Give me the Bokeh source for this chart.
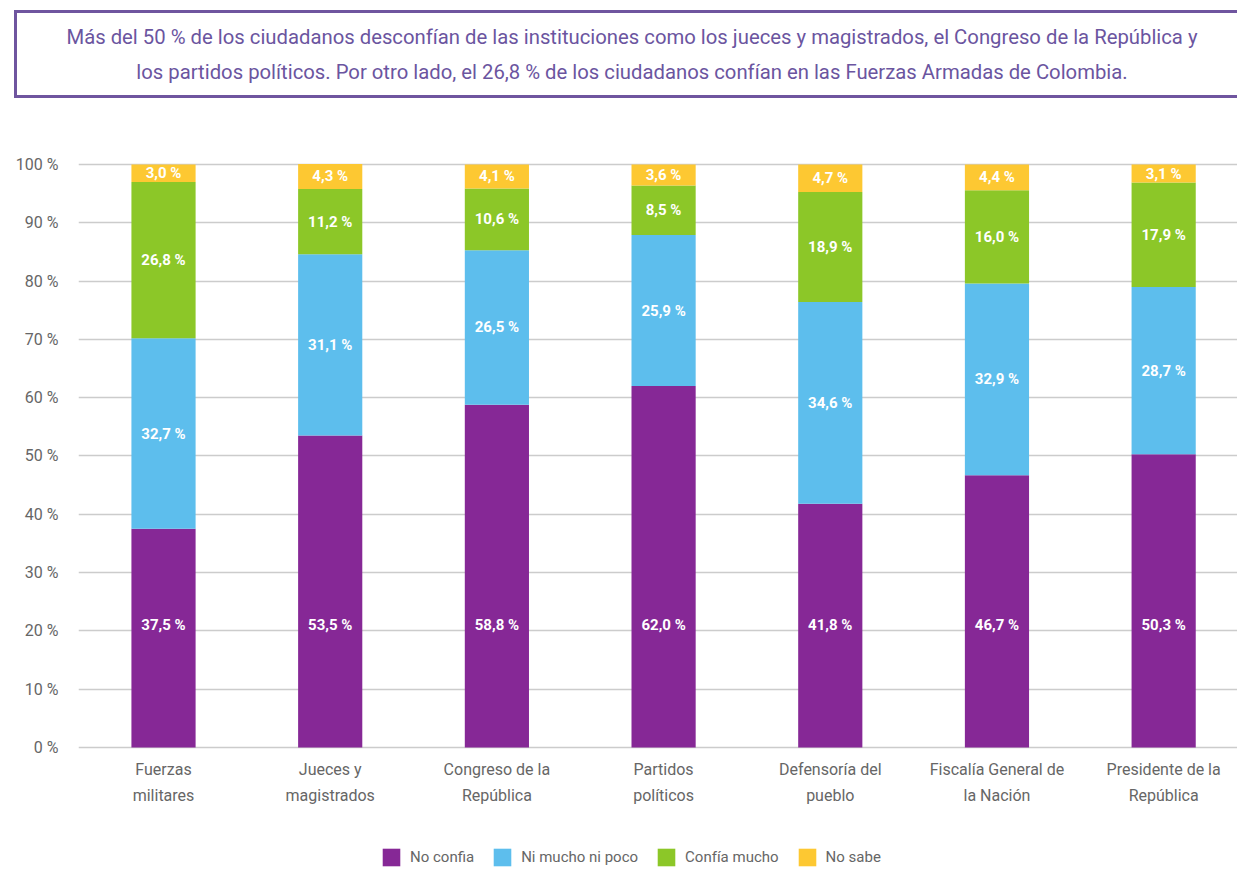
from bokeh.plotting import figure
from bokeh.models import ColumnDataSource, Range1d, FixedTicker, Div, Legend
from bokeh.layouts import column
from bokeh.core.properties import value
from bokeh.embed import file_html
from bokeh.resources import INLINE

# ---- data ----
categories = ["Fuerzas\nmilitares", "Jueces y\nmagistrados", "Congreso de la\nRepública",
              "Partidos\npolíticos", "Defensoría del\npueblo", "Fiscalía General de\nla Nación",
              "Presidente de la\nRepública"]
no_confia = [37.5, 53.5, 58.8, 62.0, 41.8, 46.7, 50.3]
ni_mucho = [32.7, 31.1, 26.5, 25.9, 34.6, 32.9, 28.7]
confia_mucho = [26.8, 11.2, 10.6, 8.5, 18.9, 16.0, 17.9]
no_sabe = [3.0, 4.3, 4.1, 3.6, 4.7, 4.4, 3.1]
series_names = ["No confia", "Ni mucho ni poco", "Confía mucho", "No sabe"]
y_ticks = [0, 10, 20, 30, 40, 50, 60, 70, 80, 90, 100]
title_text = ("Más del 50 % de los ciudadanos desconfían de las instituciones como los jueces y "
              "magistrados, el Congreso de la República y<br>los partidos políticos. Por otro lado, "
              "el 26,8 % de los ciudadanos confían en las Fuerzas Armadas de Colombia.")

colors = ["#862896", "#5dbeed", "#8cc728", "#fdc832"]
FONT = "Roboto"

x = list(range(len(categories)))
keys = ["s0", "s1", "s2", "s3"]
src = ColumnDataSource(dict(x=x, s0=no_confia, s1=ni_mucho, s2=confia_mucho, s3=no_sabe))

p = figure(width=1237, height=762, output_backend="svg", toolbar_location=None,
           x_range=Range1d(-0.51, 6.443), y_range=Range1d(-21.44, 102.40),
           min_border_left=78, min_border_right=0, min_border_top=40, min_border_bottom=0)
p.outline_line_color = None
p.background_fill_color = "white"
p.xaxis.visible = False

rs = p.vbar_stack(keys, x="x", width=0.385, source=src, color=colors, line_color=None)

# value labels
fmt = lambda v: f"{v:.1f}".replace(".", ",") + " %"
lx, ly, lt = [], [], []
for i in x:
    vals = [no_confia[i], ni_mucho[i], confia_mucho[i], no_sabe[i]]
    base = 0.0
    for j, v in enumerate(vals):
        lx.append(i)
        ly.append(21.0 if j == 0 else base + v / 2)
        lt.append(fmt(v))
        base += v
p.text(x=lx, y=ly, text=lt, text_color="white", text_font=value(FONT), text_font_style="bold",
       text_font_size="15px", text_align="center", text_baseline="middle")

# category labels (two lines) below the zero line
line1 = [c.split("\n")[0] for c in categories]
line2 = [c.split("\n")[1] for c in categories]
p.text(x=x, y=[-3.77] * len(x), text=line1, text_color="#666666", text_font=value(FONT),
       text_font_size="16px", text_align="center", text_baseline="middle")
p.text(x=x, y=[-8.23] * len(x), text=line2, text_color="#666666", text_font=value(FONT),
       text_font_size="16px", text_align="center", text_baseline="middle")

# y axis
p.yaxis.ticker = FixedTicker(ticks=y_ticks)
p.yaxis.major_label_overrides = {t: f"{t} %" for t in y_ticks}
p.yaxis.axis_line_color = None
p.yaxis.major_tick_line_color = None
p.yaxis.minor_tick_line_color = None
p.yaxis.major_label_text_font = FONT
p.yaxis.major_label_text_color = "#666666"
p.yaxis.major_label_text_font_size = "16px"
p.yaxis.major_label_standoff = 14
p.xgrid.grid_line_color = None
p.ygrid.grid_line_color = "#cccccc"
p.ygrid.grid_line_width = 1.5
p.ygrid.ticker = FixedTicker(ticks=y_ticks)

legend = Legend(items=[(n, [r]) for n, r in zip(series_names, rs)], orientation="horizontal",
                location=(302, 4), glyph_width=22, glyph_height=22, label_standoff=8, spacing=17,
                padding=0, label_text_font=FONT, label_text_font_size="15px",
                label_text_color="#666666", border_line_color=None, background_fill_alpha=0)
p.add_layout(legend)

div = Div(width=1227, height=100, text=(
    '<div style="margin-top:5px;margin-left:9px;width:1210px;height:75px;'
    'border:3px solid #6f559f;border-right:none;padding-left:10px;padding-top:7px;'
    'text-align:center;font-family:Roboto;font-size:20.3px;line-height:35px;color:#6b559f;'
    'box-sizing:content-box;white-space:nowrap;">' + title_text + '</div>'))

layout = column(div, p, spacing=0)
open("out.html", "w").write(file_html(layout, INLINE))
